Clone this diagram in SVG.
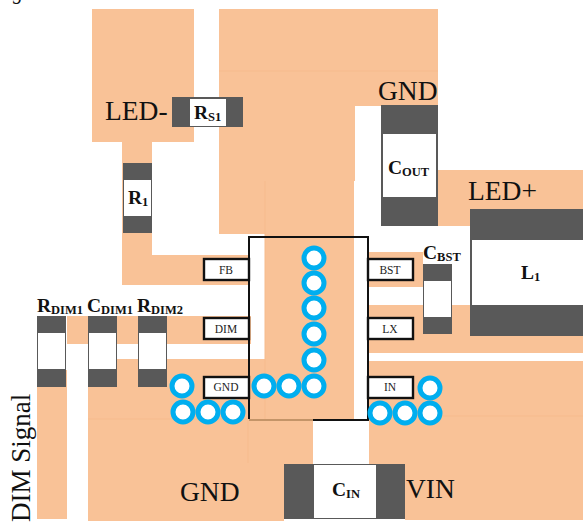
<svg xmlns="http://www.w3.org/2000/svg" width="583" height="523" viewBox="0 0 583 523">
<style>
.c{fill:#f9c297}
.g{fill:#595959}
.w{fill:#fff}
.f{stroke:#f6bb8d;stroke-width:1;fill:none}
text{font-family:"Liberation Serif","Times New Roman",serif;fill:#111}
.big{font-size:27.5px}
.b{font-weight:bold;font-size:19.5px}
.sub{font-size:12.5px}
.p{font-size:11.5px;text-anchor:middle;fill:#222}
.pin{fill:#fff;stroke:#111;stroke-width:2.4}
.v{fill:#fff;stroke:#00aeef;stroke-width:5}
</style>
<text x="13" y="-1" font-size="20" font-style="italic">g</text>
<g id="copper">
<path class="c" d="M92 9H194V142H152V255H249V285H122V142H92Z"/>
<path class="c" d="M219 9H438V106H355V181H354V420H265V234H219Z"/>
<path class="c" d="M67 316H251V344H67Z"/>
<path class="c" d="M37 370H67V519H37Z"/>
<path class="c" d="M117 359H265V420H313V464H284V521H88V380H117Z"/>
<path class="c" d="M369 361H583V520H405V464H369Z"/>
<path class="c" d="M369 252H423V287H369Z"/>
<path class="c" d="M369 305H583V353H369Z"/>
<path class="c" d="M438 170H583V226H438Z"/>
<path class="f" d="M219 71H438M265 181V420M88 419H248M248 420V463M369 416H583"/>
</g>
<g id="ic">
<path d="M249 419V237H368V420H313" fill="none" stroke="#111" stroke-width="2"/>
<path d="M249 420H313" stroke="#c49468" stroke-width="2"/>
</g>
<g id="connectors"></g>
<g id="pin-fb"><rect class="pin" x="204" y="259" width="45" height="21"/><text class="p" x="226" y="274">FB</text></g>
<g id="pin-dim"><rect class="pin" x="204" y="318" width="45" height="21"/><text class="p" x="226" y="333">DIM</text></g>
<g id="pin-gnd"><rect class="pin" x="204" y="377" width="45" height="21"/><text class="p" x="226" y="391">GND</text></g>
<g id="pin-bst"><rect class="pin" x="368" y="259" width="45" height="21"/><text class="p" x="390" y="274">BST</text></g>
<g id="pin-lx"><rect class="pin" x="368" y="318" width="45" height="21"/><text class="p" x="390" y="333">LX</text></g>
<g id="pin-in"><rect class="pin" x="368" y="377" width="45" height="21"/><text class="p" x="390" y="391">IN</text></g>
<g id="vias">
<circle class="v" cx="314" cy="258" r="10"/><circle class="v" cx="314" cy="283" r="10"/><circle class="v" cx="314" cy="308" r="10"/><circle class="v" cx="314" cy="334" r="10"/><circle class="v" cx="314" cy="360" r="10"/><circle class="v" cx="314" cy="386" r="10"/>
<circle class="v" cx="289" cy="386" r="10"/><circle class="v" cx="264" cy="386" r="10"/>
<circle class="v" cx="182" cy="386" r="10"/><circle class="v" cx="183" cy="412" r="10"/><circle class="v" cx="208" cy="412" r="10"/><circle class="v" cx="233" cy="412" r="10"/>
<circle class="v" cx="430" cy="388" r="10"/><circle class="v" cx="380" cy="413" r="10"/><circle class="v" cx="405" cy="413" r="10"/><circle class="v" cx="430" cy="413" r="10"/>
</g>
<g id="RS1"><rect class="g" x="172" y="97" width="71" height="30"/><rect class="w" x="190" y="99" width="36" height="27"/><text class="b" x="194" y="119">R<tspan class="sub" dy="2">S1</tspan></text></g>
<g id="R1"><rect class="g" x="123" y="163" width="29" height="70"/><rect class="w" x="124" y="180" width="27" height="36"/><text class="b" x="128" y="204">R<tspan class="sub" dy="2">1</tspan></text></g>
<g id="COUT"><rect class="g" x="381" y="105" width="57" height="121"/><rect class="w" x="383" y="134" width="53" height="63"/><text class="b" x="388" y="174">C<tspan class="sub" dy="2">OUT</tspan></text></g>
<g id="L1"><rect class="g" x="470" y="209" width="113" height="127"/><rect class="w" x="472" y="240" width="111" height="65"/><text class="b" x="521" y="279">L<tspan class="sub" dy="2">1</tspan></text></g>
<g id="CBST"><rect class="g" x="423" y="264" width="29" height="70"/><rect class="w" x="424" y="281" width="27" height="36"/><text class="b" x="423" y="259">C<tspan class="sub" dy="2">BST</tspan></text></g>
<g id="RDIM1"><rect class="g" x="37" y="316" width="29" height="71"/><rect class="w" x="38" y="333" width="27" height="36"/><text class="b" x="37" y="312">R<tspan class="sub" dy="2">DIM1</tspan></text></g>
<g id="CDIM1"><rect class="g" x="88" y="316" width="29" height="71"/><rect class="w" x="89" y="333" width="27" height="36"/><text class="b" x="87" y="312">C<tspan class="sub" dy="2">DIM1</tspan></text></g>
<g id="RDIM2"><rect class="g" x="138" y="316" width="29" height="71"/><rect class="w" x="139" y="333" width="27" height="36"/><text class="b" x="137" y="312">R<tspan class="sub" dy="2">DIM2</tspan></text></g>
<g id="CIN"><rect class="g" x="284" y="464" width="121" height="55"/><rect class="w" x="314" y="465" width="62" height="53"/><text class="b" x="332" y="496">C<tspan class="sub" dy="2">IN</tspan></text></g>
<text class="big" x="105" y="120">LED-</text>
<text class="big" x="378" y="100">GND</text>
<text class="big" x="468" y="200">LED+</text>
<text class="big" x="180" y="501">GND</text>
<text class="big" x="406" y="498">VIN</text>
<text class="big" font-size="27" style="font-size:27px" transform="translate(30 522) rotate(-90)">DIM Signal</text>
</svg>
